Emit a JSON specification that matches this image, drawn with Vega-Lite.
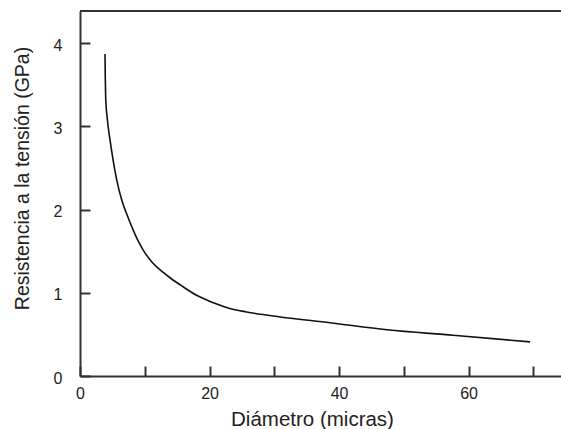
{
  "$schema": "https://vega.github.io/schema/vega-lite/v6.json",
  "autosize": "none",
  "width": 481,
  "height": 365,
  "padding": {"left": 80, "top": 11, "right": 0, "bottom": 53},
  "background": "white",
  "config": {
    "view": {"stroke": null},
    "font": "Liberation Sans",
    "axis": {
      "domainColor": "#333333",
      "domainWidth": 2,
      "tickColor": "#333333",
      "tickWidth": 2,
      "grid": false,
      "labelFont": "Liberation Sans",
      "labelFontSize": 16,
      "labelColor": "#222222",
      "titleFont": "Liberation Sans",
      "titleFontSize": 19.5,
      "titleFontWeight": "normal",
      "titleColor": "#222222"
    },
    "axisX": {"tickSize": -10},
    "axisY": {"tickSize": -10, "tickColor": "#333333", "tickWidth": 2}
  },
  "data": {
    "values": [
      {"d": 3.86, "r": 3.87},
      {"d": 3.9, "r": 3.6},
      {"d": 3.96, "r": 3.36},
      {"d": 4.2, "r": 3.1},
      {"d": 4.63, "r": 2.84},
      {"d": 5.1, "r": 2.6},
      {"d": 5.66, "r": 2.36},
      {"d": 6.5, "r": 2.1},
      {"d": 7.2, "r": 1.95},
      {"d": 8.23, "r": 1.75},
      {"d": 9.0, "r": 1.62},
      {"d": 9.78, "r": 1.51},
      {"d": 11.0, "r": 1.38},
      {"d": 12.86, "r": 1.245},
      {"d": 14.0, "r": 1.175},
      {"d": 15.96, "r": 1.07},
      {"d": 18.0, "r": 0.97},
      {"d": 20.6, "r": 0.88},
      {"d": 23.0, "r": 0.815},
      {"d": 25.7, "r": 0.77},
      {"d": 30.9, "r": 0.71},
      {"d": 38.6, "r": 0.64},
      {"d": 47.4, "r": 0.555},
      {"d": 57.6, "r": 0.49},
      {"d": 69.5, "r": 0.41}
    ]
  },
  "layer": [
    {
      "mark": {"type": "line", "color": "#111111", "strokeWidth": 1.6, "interpolate": "monotone"},
      "encoding": {
        "x": {
          "field": "d",
          "type": "quantitative",
          "scale": {"domain": [0, 74.27], "nice": false, "zero": false},
          "axis": {
            "title": "Diámetro (micras)",
            "values": [0, 10, 20, 30, 40, 50, 60, 70],
            "labelExpr": "datum.value % 20 == 0 ? datum.label : ''",
            "labelPadding": 19,
            "labelFlush": false,
            "titleX": 232,
            "titleY": 43,
            "titleBaseline": "middle",
            "titleAlign": "center",
            "titleFontSize": 20.5
          }
        },
        "y": {
          "field": "r",
          "type": "quantitative",
          "scale": {"domain": [0, 4.387], "nice": false},
          "axis": {
            "title": "Resistencia a la tensión (GPa)",
            "values": [0, 1, 2, 3, 4],
            "format": "d",
            "labelPadding": 28,
            "labelOffset": 2,
            "labelFlush": false,
            "titleX": -58,
            "titleY": 167,
            "titleAngle": 270,
            "titleBaseline": "middle",
            "titleAlign": "center"
          }
        }
      }
    },
    {
      "mark": {"type": "rule", "color": "#333333", "strokeWidth": 2},
      "encoding": {"y": {"datum": 4.387}}
    }
  ]
}
